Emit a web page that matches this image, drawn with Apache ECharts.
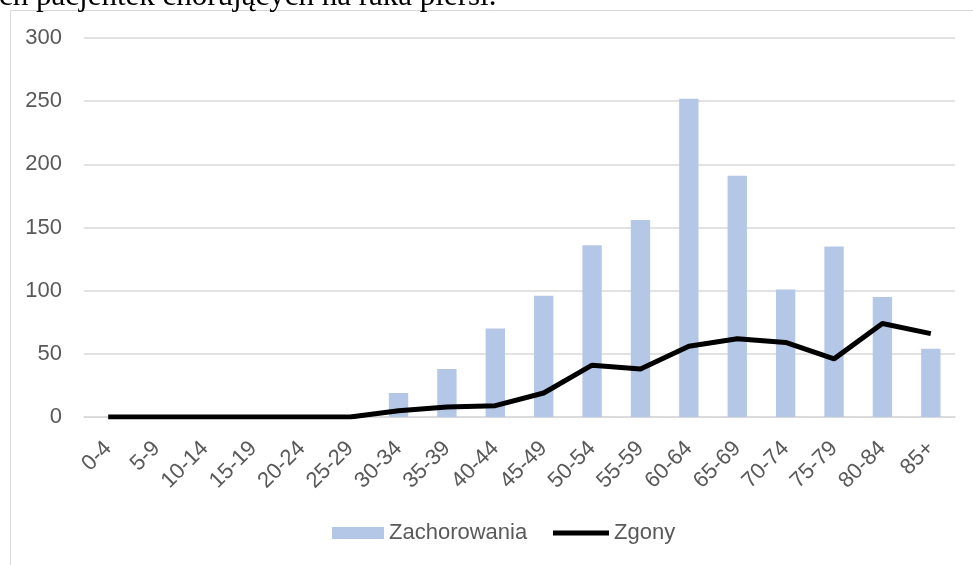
<!DOCTYPE html>
<html>
<head>
<meta charset="utf-8">
<script src="https://cdn.jsdelivr.net/npm/echarts@6/dist/echarts.min.js"></script>
<style>html,body{margin:0;padding:0;background:#fff;}#c{width:973px;height:565px;}</style>
</head>
<body>
<div id="c"></div>
<script>
const categories = ['0-4','5-9','10-14','15-19','20-24','25-29','30-34','35-39','40-44','45-49','50-54','55-59','60-64','65-69','70-74','75-79','80-84','85+'];
const zachorowania = [0,0,0,0,0,0,19,38,70,96,136,156,252,191,101,135,95,54];
const zgony = [0,0,0,0,0,0,5,8,9,19,41,38,56,62,59,46,74,66];
const yTicks = [0,50,100,150,200,250,300];
const titleText = 'ch pacjentek chorujących na raka piersi.';

const chart = echarts.init(document.getElementById('c'));
const font = "'Liberation Sans', Arial, sans-serif";
const legendText = {color: '#595959', fontSize: 22, fontFamily: font};
chart.setOption({
  animation: false,
  backgroundColor: '#fff',
  graphic: [
    {type: 'rect', shape: {x: 10.5, y: 10.5, width: 1000, height: 700}, style: {fill: 'none', stroke: '#D9D9D9', lineWidth: 1}, z: -1},
    {type: 'text', x: -1, y: -19, z: 10, style: {text: titleText, font: "31px 'Liberation Serif', 'Times New Roman', serif", fill: '#000'}}
  ],
  grid: {left: 84, right: 18, top: 38, bottom: 148},
  legend: [
    {
      left: 332, top: 522, padding: 0,
      itemWidth: 52, itemHeight: 12,
      icon: 'rect',
      textStyle: legendText,
      data: ['Zachorowania']
    },
    {
      left: 553, top: 522, padding: 0,
      itemWidth: 56, itemHeight: 5,
      icon: 'rect',
      textStyle: legendText,
      data: [{name: 'Zgony', itemStyle: {color: '#000'}}]
    }
  ],
  xAxis: {
    type: 'category', data: categories,
    axisLine: {lineStyle: {color: '#D9D9D9', width: 1.5}},
    axisTick: {show: false},
    axisLabel: {rotate: 45, color: '#595959', fontSize: 22, fontFamily: font, interval: 0, margin: 28}
  },
  yAxis: {
    type: 'value', min: yTicks[0], max: yTicks[yTicks.length - 1], interval: 50,
    axisLine: {show: false}, axisTick: {show: false},
    splitLine: {lineStyle: {color: '#D9D9D9', width: 1.5}},
    axisLabel: {color: '#595959', fontSize: 22, fontFamily: font, margin: 22}
  },
  series: [
    {name: 'Zachorowania', type: 'bar', data: zachorowania, barWidth: '40%', itemStyle: {color: '#B4C7E7'}},
    {name: 'Zgony', type: 'line', data: zgony, symbol: 'none', lineStyle: {color: '#000', width: 5}, itemStyle: {color: '#000'}}
  ]
});
</script>
</body>
</html>
